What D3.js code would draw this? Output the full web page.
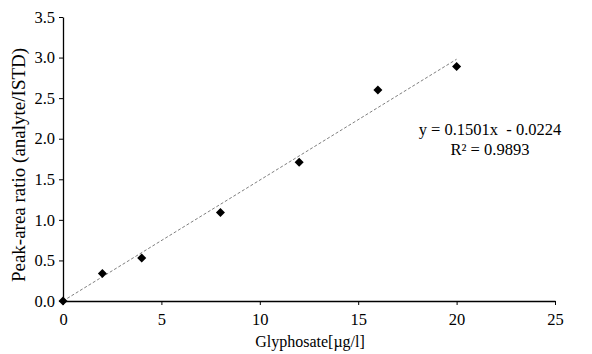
<!DOCTYPE html>
<html>
<head>
<meta charset="utf-8">
<script src="https://cdn.jsdelivr.net/npm/d3@7"></script>
<style>
  body { margin: 0; background: #fff; }
  svg text { font-family: "Liberation Serif", "Times New Roman", serif; fill: #000; }
</style>
</head>
<body>
<div id="chart"></div>
<script>
const concentrations = [0, 2, 4, 8, 12, 16, 20];
const ratios = [0.0, 0.34, 0.53, 1.09, 1.71, 2.60, 2.89];
const xTicks = [0, 5, 10, 15, 20, 25];
const yTicks = [0, 0.5, 1.0, 1.5, 2.0, 2.5, 3.0, 3.5];
const slope = 0.1501;
const intercept = -0.0224;
const trendRange = [0, 20];
const equationLines = ["y = 0.1501x  - 0.0224", "R\u00b2 = 0.9893"];

const width = 592, height = 354;
const margin = {top: 17, right: 37, bottom: 53, left: 63};

const svg = d3.select("#chart").append("svg")
    .attr("width", width)
    .attr("height", height);

const x = d3.scaleLinear().domain([0, 25]).range([margin.left, width - margin.right]);
const y = d3.scaleLinear().domain([0, 3.5]).range([height - margin.bottom, margin.top]);

// y axis
const yAxis = svg.append("g")
    .attr("transform", `translate(${margin.left},0)`)
    .call(d3.axisLeft(y).tickValues(yTicks).tickFormat(d3.format(".1f")).tickSize(4).tickSizeOuter(0));
yAxis.selectAll("text").style("font-size", "16.5px").attr("dx", "-1");
yAxis.select(".domain").attr("stroke-width", 1.3);

// x axis
const xAxis = svg.append("g")
    .attr("transform", `translate(0,${height - margin.bottom})`)
    .call(d3.axisBottom(x).tickValues(xTicks).tickSize(4).tickSizeOuter(0));
xAxis.selectAll("text").style("font-size", "16.5px").attr("dy", "1.05em");
xAxis.select(".domain").attr("stroke-width", 1.3);

// trend line
svg.append("line")
    .attr("x1", x(trendRange[0]))
    .attr("y1", y(Math.max(0, slope * trendRange[0] + intercept)))
    .attr("x2", x(trendRange[1]))
    .attr("y2", y(slope * trendRange[1] + intercept))
    .attr("stroke", "#7f7f7f")
    .attr("stroke-width", 1)
    .attr("stroke-dasharray", "3,2");

// markers
svg.selectAll(".pt")
    .data(concentrations.map((c, i) => ({c, r: ratios[i]})))
    .enter().append("path")
    .attr("class", "pt")
    .attr("d", d3.symbol().type(d3.symbolDiamond2).size(52))
    .attr("transform", d => `translate(${x(d.c)},${y(d.r)})`)
    .attr("fill", "#000");

// equation
svg.append("g").selectAll("text")
    .data(equationLines)
    .enter().append("text")
    .attr("x", 490)
    .attr("y", (d, i) => 135 + i * 20)
    .attr("text-anchor", "middle")
    .style("font-size", "16.5px")
    .style("white-space", "pre")
    .text(d => d);

// axis titles
svg.append("text")
    .attr("x", 310)
    .attr("y", 347)
    .attr("text-anchor", "middle")
    .style("font-size", "16px")
    .text("Glyphosate[\u00b5g/l]");

svg.append("text")
    .attr("transform", "translate(25,165) rotate(-90)")
    .attr("text-anchor", "middle")
    .style("font-size", "19px")
    .text("Peak-area ratio (analyte/ISTD)");
</script>
</body>
</html>
